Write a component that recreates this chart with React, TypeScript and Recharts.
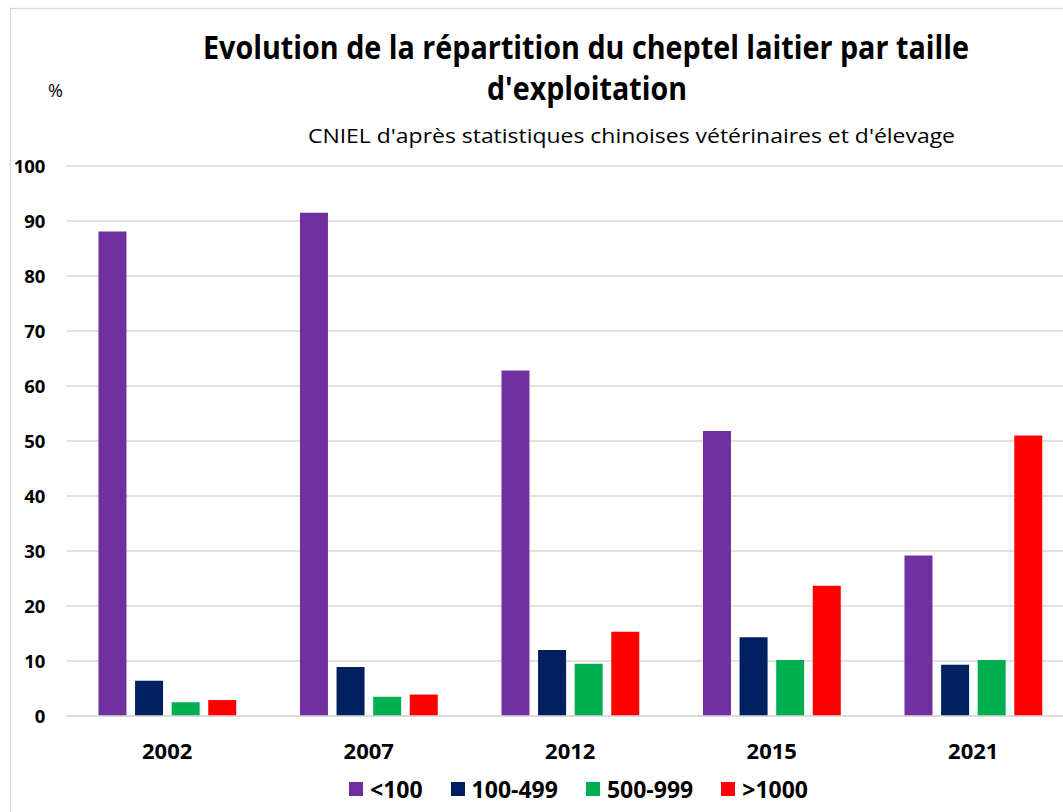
import { BarChart, Bar, XAxis, YAxis, CartesianGrid, Legend } from 'recharts'

// Répartition du cheptel laitier (%) par taille d'exploitation
const years = ['2002', '2007', '2012', '2015', '2021']
const moins100 = [88.1, 91.5, 62.8, 51.8, 29.2]
const de100a499 = [6.4, 8.9, 12.0, 14.3, 9.3]
const de500a999 = [2.5, 3.5, 9.5, 10.2, 10.2]
const plus1000 = [2.9, 3.9, 15.3, 23.7, 51.0]
const yTicks = [0, 10, 20, 30, 40, 50, 60, 70, 80, 90, 100]

const seriesInfo = [
  { key: 'a', name: '<100', color: '#7030A0' },
  { key: 'b', name: '100-499', color: '#002060' },
  { key: 'c', name: '500-999', color: '#00B050' },
  { key: 'd', name: '>1000', color: '#FF0000' },
]

const data = years.map((year, i) => ({
  year,
  a: moins100[i],
  b: de100a499[i],
  c: de500a999[i],
  d: plus1000[i],
}))

const FONT = '"Open Sans", "Liberation Sans", sans-serif'

function LegendContent() {
  return (
    <div style={{ display: 'flex', alignItems: 'center', gap: 28, fontFamily: FONT }}>
      {seriesInfo.map((s) => (
        <div key={s.key} style={{ display: 'flex', alignItems: 'center' }}>
          <span style={{ width: 14, height: 14, background: s.color, marginRight: 7, display: 'inline-block' }} />
          <span style={{ fontSize: 23, fontWeight: 700, color: '#000', lineHeight: '26px' }}>{s.name}</span>
        </div>
      ))}
    </div>
  )
}

export default function App() {
  return (
    <div
      style={{
        position: 'fixed',
        left: 0,
        top: 0,
        width: 1063,
        height: 812,
        overflow: 'hidden',
        background: '#fff',
      }}
    >
      <BarChart
        width={1074}
        height={812}
        data={data}
        margin={{ top: 166, right: 0, bottom: 66, left: 16.45 }}
        barSize={28}
        barGap={8.6}
      >
        <CartesianGrid vertical={false} stroke="#d9d9d9" strokeWidth={1.3} />
        <XAxis
          dataKey="year"
          height={30}
          tickLine={false}
          axisLine={{ stroke: '#d9d9d9', strokeWidth: 1.3 }}
          tickMargin={21}
          tick={{ fontSize: 22, fontWeight: 700, fill: '#000', fontFamily: FONT }}
        />
        <YAxis
          width={50}
          domain={[0, 100]}
          ticks={yTicks}
          interval={0}
          tickLine={false}
          axisLine={false}
          tickMargin={15}
          tick={{ fontSize: 18.5, fontWeight: 700, fill: '#000', fontFamily: FONT }}
        />
        <Legend
          layout="horizontal"
          verticalAlign="middle"
          align="center"
          content={<LegendContent />}
          wrapperStyle={{ top: 776, left: 349, width: 'auto', height: 'auto' }}
        />
        {seriesInfo.map((s) => (
          <Bar key={s.key} dataKey={s.key} name={s.name} fill={s.color} isAnimationActive={false} />
        ))}
      </BarChart>

      {/* cadre, titres et unité */}
      <svg
        width={1063}
        height={812}
        style={{ position: 'absolute', left: 0, top: 0, pointerEvents: 'none' }}
      >
        <rect x={10.5} y={8.5} width={1100} height={900} fill="none" stroke="#d9d9d9" strokeWidth={1.3} />
        <text
          x={203}
          y={59}
          fontFamily={FONT}
          fontSize={32}
          fontWeight={700}
          fill="#000"
          textLength={766}
          lengthAdjust="spacingAndGlyphs"
        >
          Evolution de la répartition du cheptel laitier par taille
        </text>
        <text
          x={487}
          y={100}
          fontFamily={FONT}
          fontSize={32}
          fontWeight={700}
          fill="#000"
          textLength={200}
          lengthAdjust="spacingAndGlyphs"
        >
          d'exploitation
        </text>
        <text
          x={308}
          y={143}
          fontFamily={FONT}
          fontSize={20}
          fill="#000"
          textLength={647}
          lengthAdjust="spacingAndGlyphs"
        >
          CNIEL d'après statistiques chinoises vétérinaires et d'élevage
        </text>
        <text x={48} y={97} fontFamily={FONT} fontSize={18} fill="#000">
          %
        </text>
      </svg>
    </div>
  )
}
